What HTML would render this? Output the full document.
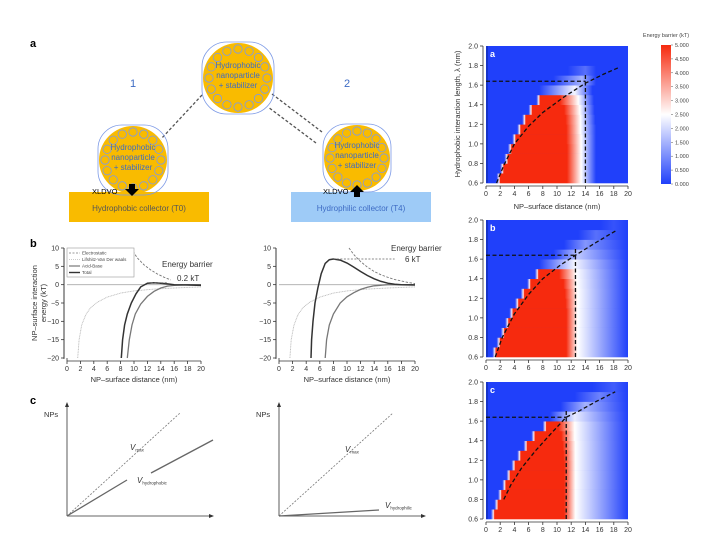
<!DOCTYPE html>
<html><head><meta charset="utf-8"><style>
html,body{margin:0;padding:0;background:#fff;}
svg{display:block;font-family:"Liberation Sans",sans-serif;}
</style></head><body>
<svg id="fig" width="709" height="548" viewBox="0 0 709 548" xmlns="http://www.w3.org/2000/svg">
<defs id="defs"></defs>
<text x="30" y="47" font-size="11" font-weight="bold">a</text>
<text x="30" y="247" font-size="11" font-weight="bold">b</text>
<text x="30" y="404" font-size="11" font-weight="bold">c</text>
<text x="133" y="87" font-size="11" fill="#3d6bc4" text-anchor="middle">1</text>
<text x="347" y="87" font-size="11" fill="#3d6bc4" text-anchor="middle">2</text>
<g stroke="#555" stroke-width="1.3" stroke-dasharray="3,2" fill="none">
<line x1="202" y1="95" x2="161" y2="139"/>
<line x1="272" y1="94" x2="322" y2="132"/>
<line x1="316" y1="143" x2="268" y2="107"/>
</g>
<rect x="69" y="192" width="140" height="30" fill="#f9bb00"/>
<text x="139" y="211" font-size="8" fill="#555" text-anchor="middle">Hydrophobic collector (T0)</text>
<rect x="291" y="192" width="140" height="30" fill="#9ecbf7"/>
<text x="361" y="211" font-size="8" fill="#3d6bc4" text-anchor="middle">Hydrophilic collector (T4)</text>
<g id="particles"></g>
<text x="92" y="194" font-size="7.5">XLDVO</text>
<path d="M129,184 h6 v5 h4 l-7,7 l-7,-7 h4z" fill="#000"/>
<text x="323" y="194" font-size="7.5">XLDVO</text>
<path d="M354,197 h6 v-5 h4 l-7,-7 l-7,7 h4z" fill="#000"/>
<g id="energy"></g>
<g id="rates"></g>
<g id="heat"></g>
</svg>
<script>
// ---------- Panel b data ----------
const bTicksX = [0,2,4,6,8,10,12,14,16,18,20];
const bTicksY = [10,5,0,-5,-10,-15,-20];
const lvdwX = [1.6,1.8,2.2,2.8,3.5,4.5,6,8,10,13,16,20];
const lvdwY = [-20,-15,-11,-8.2,-6.3,-4.8,-3.4,-2.3,-1.7,-1.2,-0.9,-0.6];
const elecLX = [9.5,10.5,11.5,12.5,13.5,14.5,15.5];
const elecLY = [10,7.3,5.4,4.0,2.9,2.0,1.3];
const abLX = [9.0,9.3,9.7,10.2,11,12,13,14,15,16,18,20];
const abLY = [-20,-15,-11,-8,-5.3,-3.2,-1.8,-0.9,-0.4,-0.2,0,0];
const totLX = [8.1,8.3,8.6,9,9.6,10.3,11,12,13,14,15,16,18,20];
const totLY = [-20,-15,-11,-8,-5,-2.5,-0.6,0.4,0.5,0.4,0.2,0,-0.1,-0.2];
const elecRX = [10.3,11,12,13,14,15,16,17,18,19,20];
const elecRY = [10,8.2,6.3,4.8,3.6,2.7,2.0,1.4,1.0,0.6,0.3];
const abRX = [6.8,7.0,7.4,8,9,10,11,12,13,14,16,18,20];
const abRY = [-20,-15,-11,-8,-5,-3.3,-2.2,-1.3,-0.7,-0.3,0,0,0];
const totRX = [4.7,4.8,5.0,5.3,5.7,6.2,6.8,7.4,8,9,10,11,12,13,14,15,16,17,18,20];
const totRY = [-20,-15,-10,-5,-1,3,5.8,6.8,7,6.7,5.9,4.8,3.6,2.5,1.6,0.9,0.4,0.1,0,-0.1];
const barrierL = [12.5,15,0.5];
const barrierR = [8,17,7];

// ---------- Heatmap data ----------
const lamRows = [0.6,0.7,0.8,0.9,1.0,1.1,1.2,1.3,1.4,1.5,1.6,1.7,1.8,1.9];
const hxTicks = [0,2,4,6,8,10,12,14,16,18,20];
const hyTicks = [0.6,0.8,1.0,1.2,1.4,1.6,1.8,2.0];
const cbTicks = ["0.000","0.500","1.000","1.500","2.000","2.500","3.000","3.500","4.000","4.500","5.000"];
const aRedL = [2.0,2.5,3.1,3.6,4.2,4.9,5.6,6.5,7.6,null,null,null,null,null];
const aRedR = [11.4,11.4,11.4,11.4,11.3,11.3,11.2,11.0,10.4,null,null,null,null,null];
const aFadeL = [0,0,0,0,0,0,0,0,0,7.5,9.5,11.5,20,20];
const aWhiteEnd = [13.4,13.4,13.4,13.4,13.4,13.3,13.3,13.2,13.0,12.5,13.5,14,20,20];
const aBlueEnd = [15.5,15.5,15.5,15.5,15.5,15.5,15.4,15.3,15.2,15,15.5,15.5,20,20];
const aWhiteA = [1,1,1,1,1,1,1,1,1,0.95,0.6,0.25,0,0];
const bRedL = [1.4,2.0,2.6,3.2,3.8,4.6,5.4,6.3,7.4,null,null,null,null,null];
const bRedR = [11.3,11.3,11.3,11.3,11.3,11.2,11.1,10.9,10.3,null,null,null,null,null];
const bFadeL = [0,0,0,0,0,0,0,0,0,7.5,9.5,11,13,16];
const bWhiteEnd = [12.9,12.9,12.9,12.9,12.9,12.9,12.9,12.8,12.7,12.5,13,14,15.5,18];
const bBlueEnd = [21,21,21,21,21,21,21,21,21,21,21,21,21,21];
const bWhiteA = [1,1,1,1,1,1,1,1,1,0.95,0.7,0.45,0.25,0.1];
const cRedL = [1.2,1.7,2.2,2.8,3.4,4.1,4.9,5.8,6.9,8.5,null,null,null,null];
const cRedR = [11,11,11,11,11,11,10.9,10.8,10.6,10.2,null,null,null,null];
const cFadeL = [0,0,0,0,0,0,0,0,0,0,9,10.5,12.5,15];
const cWhiteEnd = [12.6,12.6,12.6,12.6,12.6,12.6,12.6,12.6,12.5,12.5,12.5,14,16,18];
const cBlueEnd = [21,21,21,21,21,21,21,21,21,21,21,21,21,21];
const cWhiteA = [1,1,1,1,1,1,1,1,1,1,0.9,0.6,0.35,0.15];
const aCurveX = [1.5,2.5,4,6,8,11,14,16.5,18.7];
const aCurveY = [0.6,0.78,1.0,1.18,1.32,1.48,1.62,1.71,1.78];
const bCurveX = [1.3,2.3,4,6,8,10.5,12.6,15.5,18.5];
const bCurveY = [0.6,0.8,1.04,1.24,1.4,1.54,1.64,1.77,1.9];
const cCurveX = [2.5,3.5,5,7,9,11.3,13,15.5,18.2];
const cCurveY = [0.8,0.95,1.12,1.3,1.46,1.64,1.7,1.8,1.9];
const aGuide = [14,1.64,1.72];
const bGuide = [12.6,1.64,1.72];
const cGuide = [11.3,1.64,1.72];

const NS = "http://www.w3.org/2000/svg";
function mk(tag, attrs, parent){
  const e = document.createElementNS(NS, tag);
  for (const k in attrs) e.setAttribute(k, attrs[k]);
  parent.appendChild(e);
  return e;
}
function txt(parent, x, y, s, size, anchor, fill){
  const t = mk('text', {x:x, y:y, 'font-size':size, 'text-anchor':anchor||'start', fill:fill||'#333'}, parent);
  t.textContent = s;
  return t;
}

// ---------- Particles (panel a schematic) ----------
const pg = document.getElementById('particles');
const parts = [[238,78,35],[133,160,34],[357,158,33]];
parts.forEach((p, i) => {
  const g = mk('g', {}, pg);
  
  
  mk('circle', {cx:p[0], cy:p[1], r:p[2], fill:'#f9bb00'}, g);
  const n = 16;
  for (let k = 0; k < n; k++) {
    const a = k / n * 2 * Math.PI;
    mk('circle', {cx:p[0] + (p[2]-6)*Math.cos(a), cy:p[1] + (p[2]-6)*Math.sin(a), r:4.2, fill:'none', stroke:'#7d9ae6', 'stroke-width':0.8}, g);
  }
  mk('rect', {x:p[0]-p[2]-1, y:p[1]-p[2]-1, width:2*p[2]+2, height:2*p[2]+2, rx:p[2]*0.7, fill:'none', stroke:'#7d9ae6', 'stroke-width':0.8}, g);
  const lines = ['Hydrophobic','nanoparticle','+ stabilizer'];
  lines.forEach((l, j) => {
    const t = txt(g, p[0], p[1] - 10 + j*10, l, 8, 'middle', '#3d6bc4');
    
    
  });
});

// ---------- Energy plots ----------
const eg = document.getElementById('energy');
function energyPlot(x0, x1, series, barrier, showLegend, showY, name){
  const g = mk('g', {}, eg);
  
  
  const yTop = 248, yBot = 358;
  const sx = v => x0 + (x1 - x0) * v / 20;
  const sy = v => yTop + (10 - v) / 30 * (yBot - yTop);
  const ax = mk('path', {d:`M${x0-3},${yTop} V${yBot+1} M${x0},${yBot+3} V${yBot}`, stroke:'#333', fill:'none', 'stroke-width':0.8}, g);
  
  
  mk('line', {x1:x0-3, y1:yTop, x2:x0-3, y2:yBot, stroke:'#333', 'stroke-width':0.8}, g);
  bTicksY.forEach(v => {
    mk('line', {x1:x0-6, y1:sy(v), x2:x0-3, y2:sy(v), stroke:'#333', 'stroke-width':0.8}, g);
    const t = txt(g, x0-8, sy(v)+2.5, v < 0 ? '\u2212' + (-v) : String(v), 7, 'end');
    
    
  });
  mk('line', {x1:x0, y1:yBot+3, x2:x1, y2:yBot+3, stroke:'#333', 'stroke-width':0.8}, g);
  bTicksX.forEach(v => {
    mk('line', {x1:sx(v), y1:yBot+3, x2:sx(v), y2:yBot+6, stroke:'#333', 'stroke-width':0.8}, g);
    const t = txt(g, sx(v), yBot+13, String(v), 7, 'middle');
    
    
  });
  const xt = txt(g, (x0+x1)/2, yBot+24, 'NP\u2013surface distance (nm)', 7.5, 'middle');
  
  
  mk('line', {x1:x0, y1:sy(0), x2:x1, y2:sy(0), stroke:'#aaa', 'stroke-width':0.8}, g);
  series.forEach(s => {
    const pts = s.x.map((v, i) => sx(v).toFixed(1) + ',' + sy(s.y[i]).toFixed(1)).join(' ');
    const l = mk('polyline', {points:pts, fill:'none', stroke:s.c, 'stroke-width':s.w, 'stroke-dasharray':s.d || 'none'}, g);
    
    
  });
  const bl = mk('line', {x1:sx(barrier[0]), y1:sy(barrier[2]), x2:sx(barrier[1]), y2:sy(barrier[2]), stroke:'#666', 'stroke-width':0.8, 'stroke-dasharray':'2,1.5'}, g);
  
  
  if (showY) {
    const yt = mk('text', {x:0, y:0, 'font-size':7.5, fill:'#333', 'text-anchor':'middle', transform:`translate(37,303) rotate(-90)`}, g);
    yt.textContent = 'NP\u2013surface interaction';
    
    
    const yt2 = mk('text', {x:0, y:0, 'font-size':7.5, fill:'#333', 'text-anchor':'middle', transform:`translate(46,303) rotate(-90)`}, g);
    yt2.textContent = 'energy (kT)';
    
    
  }
  if (showLegend) {
    const lg = mk('g', {}, g);
    
    
    mk('rect', {x:x0, y:yTop, width:67, height:29, fill:'#fff', stroke:'#999', 'stroke-width':0.6}, lg);
    const items = [['Electrostatic','#777','2,1.5',0.8],['Lifshitz-Van Der waals','#bbb','1,1',0.8],['Acid-Base','#777','',1.2],['Total','#333','',1.4]];
    items.forEach((it, i) => {
      const yy = yTop + 5 + i*6.5;
      mk('line', {x1:x0+2, y1:yy, x2:x0+13, y2:yy, stroke:it[1], 'stroke-width':it[3], 'stroke-dasharray':it[2]||'none'}, lg);
      const t = txt(lg, x0+15, yy+1.7, it[0], 4.5, 'start', '#444');
      
      
    });
  }
  return {sx, sy, g};
}
const pL = energyPlot(67, 201, [
  {x:lvdwX, y:lvdwY, c:'#bbb', w:0.9, d:'1,0.6', n:'lvdw-curve'},
  {x:elecLX, y:elecLY, c:'#777', w:0.9, d:'2.5,1.5', n:'electrostatic-curve'},
  {x:abLX, y:abLY, c:'#777', w:1.3, n:'acid-base-curve'},
  {x:totLX, y:totLY, c:'#333', w:1.5, n:'total-curve'}
], barrierL, true, true, 'energy-plot-hydrophobic');
let t1 = txt(pL.g, 162, 267, 'Energy barrier', 8, 'start', '#333');


t1 = txt(pL.g, 177, 281, '0.2 kT', 8, 'start', '#333');


const pR = energyPlot(279, 415, [
  {x:lvdwX, y:lvdwY, c:'#bbb', w:0.9, d:'1,0.6', n:'lvdw-curve'},
  {x:elecRX, y:elecRY, c:'#777', w:0.9, d:'2.5,1.5', n:'electrostatic-curve'},
  {x:abRX, y:abRY, c:'#777', w:1.3, n:'acid-base-curve'},
  {x:totRX, y:totRY, c:'#333', w:1.5, n:'total-curve'}
], barrierR, false, false, 'energy-plot-hydrophilic');
t1 = txt(pR.g, 391, 251, 'Energy barrier', 8, 'start', '#333');


t1 = txt(pR.g, 405, 262, '6 kT', 8, 'start', '#333');



// ---------- Panel c ----------
const rg = document.getElementById('rates');
function ratePlot(ox, xe, dashEnd, solidSegs, vmaxPos, vPos, sub, name){
  const g = mk('g', {}, rg);
  
  
  const oy = 516;
  mk('line', {x1:ox, y1:oy, x2:ox, y2:406, stroke:'#333', 'stroke-width':0.8}, g);
  mk('path', {d:`M${ox-2},407 L${ox},402 L${ox+2},407z`, fill:'#333'}, g);
  mk('line', {x1:ox, y1:oy, x2:xe, y2:oy, stroke:'#333', 'stroke-width':0.8}, g);
  mk('path', {d:`M${xe-4},${oy-2} L${xe+1},${oy} L${xe-4},${oy+2}z`, fill:'#333'}, g);
  let t = txt(g, ox-23, 417, 'NPs', 7.5, 'start', '#333');
  
  
  const d = mk('line', {x1:ox, y1:oy, x2:dashEnd[0], y2:dashEnd[1], stroke:'#777', 'stroke-width':0.8, 'stroke-dasharray':'2,1.5'}, g);
  
  
  solidSegs.forEach(s => {
    const l = mk('line', {x1:s[0], y1:s[1], x2:s[2], y2:s[3], stroke:'#666', 'stroke-width':1.3}, g);
    
    
  });
  t = mk('text', {x:vmaxPos[0], y:vmaxPos[1], 'font-size':8, fill:'#333', 'font-style':'italic'}, g);
  t.innerHTML = 'V<tspan font-size="4.5" font-style="normal" dy="1.5">max</tspan>';
  
  
  t = mk('text', {x:vPos[0], y:vPos[1], 'font-size':8, fill:'#333', 'font-style':'italic'}, g);
  t.innerHTML = 'V<tspan font-size="4.5" font-style="normal" dy="1.5">' + sub + '</tspan>';
  
  
}
ratePlot(67, 213, [180,413], [[67,516,127,480],[151,473,213,440]], [130,450], [137,483], 'hydrophobic', 'rate-plot-hydrophobic');
ratePlot(279, 425, [393,413], [[279,516,379,510]], [345,452], [385,508], 'hydrophilic', 'rate-plot-hydrophilic');

// ---------- Heatmaps ----------
const hg = document.getElementById('heat');
const defs = document.getElementById('defs');
const BLUE = [32,64,250], RED = [246,42,14];
function mix(a, b, t){ return 'rgb(' + a.map((v,i) => Math.round(v + (b[i]-v)*t)).join(',') + ')'; }
let gid = 0;
function heatmap(top, letter, redL, redR, fadeL, whiteEnd, blueEnd, whiteA, cx, cy, guide, showXTitle){
  const L = 486, R = 628, B = top + 137;
  const sx = v => L + (R - L) * v / 20;
  const sy = v => B - (v - 0.6) / 1.4 * (B - top);
  const g = mk('g', {}, hg);
  
  
  mk('rect', {x:L, y:top, width:R-L, height:B-top, fill:mix(BLUE,BLUE,0)}, g);
  lamRows.forEach((lam, i) => {
    const id = 'hg' + (gid++);
    const lg = mk('linearGradient', {id:id, gradientUnits:'userSpaceOnUse', x1:L, x2:R, y1:0, y2:0}, defs);
    const stops = [];
    const o = v => Math.max(0, Math.min(1, v / 20));
    if (redL[i] !== null) {
      stops.push([o(redL[i]-0.5), mix(BLUE,[255,255,255],0)]);
      stops.push([o(redL[i]-0.15), 'rgb(255,235,235)']);
      stops.push([o(redL[i]), mix(RED,RED,0)]);
      stops.push([o(redR[i]), mix(RED,RED,0)]);
      stops.push([o(whiteEnd[i]), 'rgb(255,255,255)']);
      stops.push([o(blueEnd[i]), mix(BLUE,BLUE,0)]);
    } else {
      stops.push([o(fadeL[i]), mix(BLUE,BLUE,0)]);
      stops.push([o(whiteEnd[i]), mix(BLUE,[255,255,255],whiteA[i])]);
      stops.push([o(blueEnd[i]), mix(BLUE,BLUE,0)]);
    }
    stops.forEach(s => mk('stop', {offset:s[0], 'stop-color':s[1]}, lg));
    const r = mk('rect', {x:L, y:sy(lam+0.1), width:R-L, height:sy(lam)-sy(lam+0.1)+0.3, fill:'url(#'+id+')'}, g);
    
    
  });
  mk('rect', {x:L, y:top, width:2, height:B-top, fill:'#1634c8'}, g);
  // dashed guides
  const gl = mk('path', {d:`M${L},${sy(guide[1])} H${sx(guide[0])} M${sx(guide[0])},${B} V${sy(guide[2])}`, stroke:'#111', 'stroke-width':1.3, 'stroke-dasharray':'4,2.5', fill:'none'}, g);
  
  
  const cp = cx.map((v, i) => sx(v).toFixed(1) + ',' + sy(cy[i]).toFixed(1)).join(' ');
  const cl = mk('polyline', {points:cp, stroke:'#111', 'stroke-width':1.3, 'stroke-dasharray':'4,2.5', fill:'none'}, g);
  
  
  const pl = txt(g, L+4, top+11, letter, 9, 'start', '#fff');
  pl.setAttribute('font-weight', 'bold');
  
  
  mk('path', {d:`M${L-3},${top} V${B} M${L},${B+3} H${R}`, stroke:'#333', 'stroke-width':0.8, fill:'none'}, g);
  hyTicks.forEach(v => {
    mk('line', {x1:L-6, y1:sy(v), x2:L-3, y2:sy(v), stroke:'#333', 'stroke-width':0.8}, g);
    const t = txt(g, L-8, sy(v)+2.5, v.toFixed(1), 7, 'end');
    
    
  });
  hxTicks.forEach(v => {
    mk('line', {x1:sx(v), y1:B+3, x2:sx(v), y2:B+6, stroke:'#333', 'stroke-width':0.8}, g);
    const t = txt(g, sx(v), B+13, String(v), 7, 'middle');
    
    
  });
  if (showXTitle) {
    const t = txt(g, (L+R)/2, B+26, 'NP\u2013surface distance (nm)', 7.5, 'middle');
    
    
  }
}
heatmap(46, 'a', aRedL, aRedR, aFadeL, aWhiteEnd, aBlueEnd, aWhiteA, aCurveX, aCurveY, aGuide, true);
heatmap(220, 'b', bRedL, bRedR, bFadeL, bWhiteEnd, bBlueEnd, bWhiteA, bCurveX, bCurveY, bGuide, false);
heatmap(382, 'c', cRedL, cRedR, cFadeL, cWhiteEnd, cBlueEnd, cWhiteA, cCurveX, cCurveY, cGuide, false);
const yT = mk('text', {x:0, y:0, 'font-size':7.5, fill:'#333', 'text-anchor':'middle', transform:'translate(460,114) rotate(-90)'}, hg);
yT.textContent = 'Hydrophobic interaction length, \u03bb (nm)';



// colorbar
const cbg = mk('g', {}, hg);


const cg = mk('linearGradient', {id:'cbgrad', x1:0, y1:1, x2:0, y2:0}, defs);
mk('stop', {offset:0, 'stop-color':mix(BLUE,BLUE,0)}, cg);
mk('stop', {offset:0.5, 'stop-color':'#fff'}, cg);
mk('stop', {offset:1, 'stop-color':mix(RED,RED,0)}, cg);
const cbTop = 45, cbBot = 184;
mk('rect', {x:661, y:cbTop, width:10, height:cbBot-cbTop, fill:'url(#cbgrad)'}, cbg);
cbTicks.forEach((s, i) => {
  const y = cbBot - i / (cbTicks.length - 1) * (cbBot - cbTop);
  mk('line', {x1:671, y1:y, x2:673, y2:y, stroke:'#555', 'stroke-width':0.5}, cbg);
  const t = txt(cbg, 675, y+2, s, 5.5, 'start', '#444');
  
  
});
const cbt = txt(cbg, 666, 37, 'Energy barrier (kT)', 5.5, 'middle', '#444');


</script>
</body></html>
